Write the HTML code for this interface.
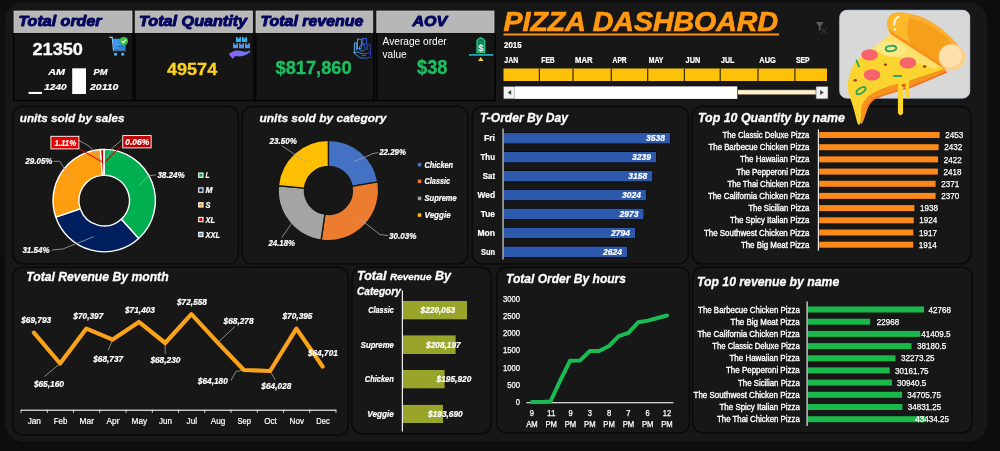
<!DOCTYPE html>
<html><head><meta charset="utf-8"><title>Pizza Dashboard</title>
<style>
html,body{margin:0;padding:0;background:#0e0e0e;}
body{width:1000px;height:451px;overflow:hidden;font-family:"Liberation Sans", sans-serif;}
svg{display:block;font-family:"Liberation Sans", sans-serif;will-change:transform;opacity:0.999;}
</style></head><body>
<svg width="1000" height="451" viewBox="0 0 1000 451">
<rect width="1000" height="451" fill="#0e0e0e"/>
<rect x="5.2" y="2.5" width="981.8" height="438.9" fill="#181818" rx="18"/>
<rect x="13.7" y="33.0" width="119.5" height="67.5" fill="#161616" stroke="#050505" stroke-width="1.6"/>
<rect x="14.0" y="11.0" width="118.0" height="21.7" fill="#b8b8b8" stroke="#d2d2d2" stroke-width="0.7"/>
<text x="18.4" y="25.5" font-size="14.3" fill="#05075f" font-weight="bold" font-style="italic" textLength="83.2" lengthAdjust="spacingAndGlyphs" stroke="#05075f" stroke-width="0.95" stroke-linejoin="round">Total order</text>
<rect x="134.9" y="33.0" width="118.8" height="67.5" fill="#161616" stroke="#050505" stroke-width="1.6"/>
<rect x="135.2" y="11.0" width="117.3" height="21.7" fill="#b8b8b8" stroke="#d2d2d2" stroke-width="0.7"/>
<text x="139.1" y="25.5" font-size="14.3" fill="#05075f" font-weight="bold" font-style="italic" textLength="108.0" lengthAdjust="spacingAndGlyphs" stroke="#05075f" stroke-width="0.95" stroke-linejoin="round">Total Quantity</text>
<rect x="255.7" y="33.0" width="118.3" height="67.5" fill="#161616" stroke="#050505" stroke-width="1.6"/>
<rect x="256.0" y="11.0" width="116.8" height="21.7" fill="#b8b8b8" stroke="#d2d2d2" stroke-width="0.7"/>
<text x="260.4" y="25.5" font-size="14.3" fill="#05075f" font-weight="bold" font-style="italic" textLength="102.9" lengthAdjust="spacingAndGlyphs" stroke="#05075f" stroke-width="0.95" stroke-linejoin="round">Total revenue</text>
<rect x="376.5" y="33.0" width="118.7" height="67.5" fill="#161616" stroke="#050505" stroke-width="1.6"/>
<rect x="376.8" y="11.0" width="117.2" height="21.7" fill="#b8b8b8" stroke="#d2d2d2" stroke-width="0.7"/>
<text x="412.4" y="25.5" font-size="14.3" fill="#05075f" font-weight="bold" font-style="italic" textLength="34.7" lengthAdjust="spacingAndGlyphs" stroke="#05075f" stroke-width="0.95" stroke-linejoin="round">AOV</text>
<text x="32.4" y="55.2" font-size="17" fill="#fff" font-weight="bold" textLength="50.6" lengthAdjust="spacingAndGlyphs" stroke="#fff" stroke-width="0.3">21350</text>
<text x="48.3" y="74.8" font-size="9.8" fill="#fff" font-weight="bold" font-style="italic" textLength="16.8" lengthAdjust="spacingAndGlyphs" stroke="#fff" stroke-width="0.22">AM</text>
<text x="44.3" y="89.9" font-size="9.6" fill="#fff" font-weight="bold" font-style="italic" textLength="22.3" lengthAdjust="spacingAndGlyphs" stroke="#fff" stroke-width="0.22">1240</text>
<text x="93.6" y="74.8" font-size="9.8" fill="#fff" font-weight="bold" font-style="italic" textLength="14.0" lengthAdjust="spacingAndGlyphs" stroke="#fff" stroke-width="0.22">PM</text>
<text x="90.0" y="89.9" font-size="9.6" fill="#fff" font-weight="bold" font-style="italic" textLength="28.3" lengthAdjust="spacingAndGlyphs" stroke="#fff" stroke-width="0.22">20110</text>
<rect x="72.2" y="68.3" width="13.8" height="25.7" fill="#fff"/>
<rect x="28.5" y="91.9" width="13.5" height="2.1" fill="#fff"/>
<text x="167.0" y="74.8" font-size="17.2" fill="#ffd320" font-weight="bold" textLength="50.2" lengthAdjust="spacingAndGlyphs" stroke="#ffd320" stroke-width="0.3">49574</text>
<text x="275.5" y="74.0" font-size="17.5" fill="#1fc063" font-weight="bold" textLength="76.1" lengthAdjust="spacingAndGlyphs" stroke="#1fc063" stroke-width="0.3">$817,860</text>
<text x="382.6" y="45.2" font-size="10.2" fill="#fff" textLength="64.1" lengthAdjust="spacingAndGlyphs">Average order</text>
<text x="382.6" y="58.3" font-size="10.2" fill="#fff" textLength="24.0" lengthAdjust="spacingAndGlyphs">value</text>
<text x="417.0" y="73.7" font-size="20" fill="#1fc063" font-weight="bold" textLength="30.4" lengthAdjust="spacingAndGlyphs" stroke="#1fc063" stroke-width="0.3">$38</text>
<g><path d="M109.3,37.3 L112.2,37.3 L113.6,50.8 L125.8,50.8" fill="none" stroke="#9ec9f5" stroke-width="1.2"/><path d="M112.6,38.8 L126,38.8 L125.2,49.8 L113.8,49.8 Z" fill="#3a9cf0"/><path d="M119.5,38.8 L126,38.8 L125.2,49.8 L119.5,49.8 Z" fill="#2b86e0"/><rect x="116.3" y="46" width="1.3" height="1.1" fill="#1552b0"/><rect x="118.8" y="46" width="1.3" height="1.1" fill="#1552b0"/><rect x="121.3" y="46" width="1.3" height="1.1" fill="#1552b0"/><rect x="112" y="50.6" width="13.8" height="1.6" fill="#1a2a55"/><circle cx="115.6" cy="54.2" r="1.6" fill="#45b4f5"/><circle cx="122.7" cy="54.2" r="1.6" fill="#45b4f5"/><circle cx="123.9" cy="41" r="4.1" fill="#3cc43c"/><path d="M121.8,41 L123.4,42.6 L126,39.6" fill="none" stroke="#fff" stroke-width="1.2"/></g>
<defs><linearGradient id="gbox" gradientUnits="userSpaceOnUse" x1="0" y1="37" x2="0" y2="48.5"><stop offset="0" stop-color="#1cc6f2"/><stop offset="1" stop-color="#5f8af5"/></linearGradient><linearGradient id="ghand" x1="0" y1="0" x2="1" y2="0"><stop offset="0" stop-color="#9a5cf8"/><stop offset="1" stop-color="#5b82f5"/></linearGradient><linearGradient id="gmoney" gradientUnits="userSpaceOnUse" x1="353" y1="0" x2="371" y2="0"><stop offset="0" stop-color="#62c0ea"/><stop offset="1" stop-color="#2436d0"/></linearGradient></defs>
<path d="M236,37 h1.6 v1.5 h1.8 v-1.5 h1.6 v5 h-5 Z" fill="url(#gbox)"/>
<path d="M242,37 h1.6 v1.5 h1.8 v-1.5 h1.6 v5 h-5 Z" fill="url(#gbox)"/>
<path d="M233,43.3 h1.6 v1.5 h1.8 v-1.5 h1.6 v5 h-5 Z" fill="url(#gbox)"/>
<path d="M239,43.3 h1.6 v1.5 h1.8 v-1.5 h1.6 v5 h-5 Z" fill="url(#gbox)"/>
<path d="M245,43.3 h1.6 v1.5 h1.8 v-1.5 h1.6 v5 h-5 Z" fill="url(#gbox)"/>
<path d="M228.7,54 L232.2,51.8 Q236,49.6 240,50.8 L244.5,51.8 Q247,52 249.5,50.6 Q251,51 249.6,52.6 Q245,56.6 239,56.4 L235.5,56 L232.6,58.8 Z" fill="url(#ghand)"/>
<g fill="none" stroke="url(#gmoney)" stroke-width="0.95"><path d="M354.4,52 L354.4,42.8 L356.6,42.8 L356.6,50.5"/><rect x="357.5" y="39.2" width="3.8" height="9.5"/><rect x="362.8" y="38.5" width="3.8" height="5.6"/><path d="M367.2,50 L367.2,44.8 L370.2,44.8 L370.2,53"/><path d="M361.4,45 Q362.2,43.6 363.2,45 Q365.6,46.8 365.2,49.4 Q364.6,51 362.2,51 Q359.6,51 359.2,49.2 Q359,46.6 361.4,45 Z"/><path d="M353.6,52.6 L357.6,51.9 L362,53.7 L366.2,53.7 L370.3,52.4 L370.6,57.2 L366,58.3 L360,57.8 Z"/><path d="M362,55.6 L366,55.6"/></g>
<g><path d="M477,41.2 Q477.2,39 480.8,37.8 Q484.5,39 484.7,41.2 L484.7,52.4 L477,52.4 Z" fill="#128a5a" stroke="#22cc88" stroke-width="1.3"/><rect x="478.6" y="39.6" width="4.6" height="0.9" fill="#0d5a3a"/><rect x="469" y="54" width="24.2" height="1.8" fill="#1fa9bb"/><path d="M478.2,61 L480.8,56.9 L483.5,61 Z" fill="#f7d548"/></g>
<text x="480.9" y="50.6" font-size="9.5" fill="#fff" text-anchor="middle" stroke="#fff" stroke-width="0.2">$</text>
<g>
<text x="504.6" y="31.6" font-size="28" fill="#2a1600" font-weight="bold" font-style="italic" textLength="274.5" lengthAdjust="spacingAndGlyphs" stroke="#2a1600" stroke-width="1.2">PIZZA DASHBOARD</text>
<text x="503.5" y="30.5" font-size="28" fill="#ff9a12" font-weight="bold" font-style="italic" textLength="274.5" lengthAdjust="spacingAndGlyphs" stroke="#ff9a12" stroke-width="0.7">PIZZA DASHBOARD</text>
</g>
<rect x="503.5" y="33.5" width="275.5" height="2.0" fill="#f7941d"/>
<text x="504.0" y="47.7" font-size="8.6" fill="#fff" font-weight="bold" textLength="17.6" lengthAdjust="spacingAndGlyphs" stroke="#fff" stroke-width="0.22">2015</text>
<text x="504.3" y="63.1" font-size="8.2" fill="#fff" font-weight="bold" textLength="13.9" lengthAdjust="spacingAndGlyphs" stroke="#fff" stroke-width="0.22">JAN</text>
<text x="541.3" y="63.1" font-size="8.2" fill="#fff" font-weight="bold" textLength="13.4" lengthAdjust="spacingAndGlyphs" stroke="#fff" stroke-width="0.22">FEB</text>
<text x="575.0" y="63.1" font-size="8.2" fill="#fff" font-weight="bold" textLength="17.5" lengthAdjust="spacingAndGlyphs" stroke="#fff" stroke-width="0.22">MAR</text>
<text x="612.6" y="63.1" font-size="8.2" fill="#fff" font-weight="bold" textLength="14.1" lengthAdjust="spacingAndGlyphs" stroke="#fff" stroke-width="0.22">APR</text>
<text x="648.7" y="63.1" font-size="8.2" fill="#fff" font-weight="bold" textLength="14.6" lengthAdjust="spacingAndGlyphs" stroke="#fff" stroke-width="0.22">MAY</text>
<text x="685.6" y="63.1" font-size="8.2" fill="#fff" font-weight="bold" textLength="14.6" lengthAdjust="spacingAndGlyphs" stroke="#fff" stroke-width="0.22">JUN</text>
<text x="721.0" y="63.1" font-size="8.2" fill="#fff" font-weight="bold" textLength="13.4" lengthAdjust="spacingAndGlyphs" stroke="#fff" stroke-width="0.22">JUL</text>
<text x="759.3" y="63.1" font-size="8.2" fill="#fff" font-weight="bold" textLength="16.6" lengthAdjust="spacingAndGlyphs" stroke="#fff" stroke-width="0.22">AUG</text>
<text x="795.9" y="63.1" font-size="8.2" fill="#fff" font-weight="bold" textLength="13.7" lengthAdjust="spacingAndGlyphs" stroke="#fff" stroke-width="0.22">SEP</text>
<rect x="503.5" y="68.5" width="323.5" height="12.5" fill="#ffc20a"/>
<rect x="538.8" y="68.5" width="1.2" height="12.5" fill="#3a2c00"/>
<rect x="572.4" y="68.5" width="1.2" height="12.5" fill="#3a2c00"/>
<rect x="610.7" y="68.5" width="1.2" height="12.5" fill="#3a2c00"/>
<rect x="647.1" y="68.5" width="1.2" height="12.5" fill="#3a2c00"/>
<rect x="683.8" y="68.5" width="1.2" height="12.5" fill="#3a2c00"/>
<rect x="719.6" y="68.5" width="1.2" height="12.5" fill="#3a2c00"/>
<rect x="757.4" y="68.5" width="1.2" height="12.5" fill="#3a2c00"/>
<rect x="794.3" y="68.5" width="1.2" height="12.5" fill="#3a2c00"/>
<rect x="503.5" y="86.4" width="11.5" height="12.5" fill="#f4f4f4" stroke="#555" stroke-width="0.6"/>
<path d="M511.2,90.1 L507.6,92.6 L511.2,95.1 Z" fill="#444"/>
<rect x="515.0" y="86.4" width="222.3" height="12.5" fill="#ffffff"/>
<rect x="737.3" y="89.8" width="79.0" height="5.0" fill="#fff3d2" stroke="#3a3020" stroke-width="0.6"/>
<rect x="816.0" y="86.4" width="12.0" height="12.5" fill="#f4f4f4" stroke="#555" stroke-width="0.6"/>
<path d="M820.2,90.1 L823.8,92.6 L820.2,95.1 Z" fill="#444"/>
<path d="M815.8,22 L823.8,22 L820.4,26.4 L820.4,30.4 L819,30.4 L819,26.4 Z" fill="#5c5c5c"/>
<path d="M820.6,27.8 L827,33.6 M827,27.8 L820.6,33.6" stroke="#414141" stroke-width="0.9" fill="none"/>
<rect x="12.8" y="106.6" width="225.6" height="157.3" fill="#181818" rx="10" stroke="#0a0a0a" stroke-width="1.5"/>
<rect x="242.2" y="106.6" width="225.8" height="157.3" fill="#181818" rx="10" stroke="#0a0a0a" stroke-width="1.5"/>
<rect x="472.1" y="106.6" width="216.1" height="157.3" fill="#181818" rx="10" stroke="#0a0a0a" stroke-width="1.5"/>
<rect x="692.0" y="106.6" width="278.8" height="157.3" fill="#181818" rx="10" stroke="#0a0a0a" stroke-width="1.5"/>
<rect x="12.8" y="267.2" width="335.5" height="167.8" fill="#181818" rx="10" stroke="#0a0a0a" stroke-width="1.5"/>
<rect x="352.0" y="267.2" width="139.2" height="166.6" fill="#181818" rx="10" stroke="#0a0a0a" stroke-width="1.5"/>
<rect x="496.7" y="267.2" width="192.7" height="165.8" fill="#181818" rx="10" stroke="#0a0a0a" stroke-width="1.5"/>
<rect x="692.7" y="267.2" width="279.3" height="165.6" fill="#181818" rx="10" stroke="#0a0a0a" stroke-width="1.5"/>
<rect x="839.8" y="10.3" width="129.9" height="87.8" fill="#d9d9d9" rx="7" stroke="#c5d3ea" stroke-width="1"/>
<path d="M861,124.5 L861,106.6 Q863,100 868,95.5 Q876,89.5 888,86 L944.5,68.5 L947,72.5 L910,88.3 Q890,93 875,99 Q869.5,103 867.5,109 L863.2,121.5 Z" fill="#f7931e"/>
<path d="M947,72.5 L910,88.3 Q890,93 875,99 Q869.5,103 867.5,109 L866.3,108.6 Q868.5,102 874.4,98 Q890,91.8 909.6,87 L946.4,71.4 Z" fill="#f26a21"/>
<path d="M891.4,33.7 Q868,52 855.5,62 Q849.5,72 848,82 Q847.2,90 849.5,96 Q852,103 854,110 L857.2,122.5 Q859,127 860.8,122.5 L861.3,107 Q863.5,100.5 868.5,96 Q876,90.3 888,86.4 L897.9,83.6 L897.9,113 Q900.5,117.5 903.1,113 L903.1,84 L905.9,83.2 L905.9,97 Q907.5,100.5 909.1,97 L909.1,80.8 L944.5,68.8 L946,62 Z" fill="#fdd531"/>
<path d="M891.4,33.7 Q876,45 866,53 Q880,50 895,56 Q915,63 935,68.5 L946,65 Z" fill="#fde16a"/>
<ellipse cx="891" cy="49" rx="15" ry="7.5" fill="#fde985" transform="rotate(8 891 49)"/>

<path d="M887,23 Q887.5,12.5 898,12.4 Q910,12.6 921,16.5 Q942,25.5 959.5,46.5 L945,69.5 L891.5,34.5 Q886.6,29 887,23 Z" fill="#fbb033"/>
<path d="M906,17.5 Q925,21 941,33 Q951,41 955,50 L944,65.5 L905,41.5 Q903,30 906,17.5 Z" fill="#f6a01c"/>
<path d="M888.6,29.8 L943.6,64.6 L945.2,69.6 L891.5,34.6 Q889.5,33 888.6,29.8 Z" fill="#f7931e"/>
<path d="M887,23 Q887.5,12.5 898,12.4 Q906,12.5 910,16 Q906.5,25 907.5,34 Q908,39 911,43.5 L891.5,31.5 Q886.6,28 887,23 Z" fill="#fdb92c"/>
<circle cx="951.9" cy="57.3" r="13.2" fill="#fdd189"/>
<circle cx="950.3" cy="56.2" r="11.2" fill="#fde2ad"/>
<path d="M894,25 Q894.5,18.5 899,16.6" fill="none" stroke="#fff" stroke-width="1.7" stroke-linecap="round"/>
<circle cx="895" cy="29.4" r="1.2" fill="#fff"/>
<ellipse cx="869.6" cy="54.9" rx="8.3" ry="5.7" fill="#f7646c"/>
<ellipse cx="907.9" cy="62.9" rx="8.3" ry="5.7" fill="#f7646c"/>
<ellipse cx="872" cy="74.9" rx="8.3" ry="5.7" fill="#f7646c"/>
<ellipse cx="891" cy="48.5" rx="5.3" ry="2.6" fill="none" stroke="#2aa860" stroke-width="1.9" transform="rotate(-6 891 48.5)"/>
<ellipse cx="861" cy="90.6" rx="5.2" ry="2.5" fill="none" stroke="#2aa860" stroke-width="1.9" transform="rotate(-33 861 90.6)"/>
<path d="M856.5,60.5 L859,66.5" stroke="#2aa860" stroke-width="1.9" stroke-linecap="round"/>
<path d="M894.2,76 L901.2,76" stroke="#2aa876" stroke-width="2" stroke-linecap="round"/>
<ellipse cx="855.2" cy="80.2" rx="1.7" ry="1.2" fill="#9a3a1c"/>
<ellipse cx="885.5" cy="64.7" rx="1.7" ry="1.2" fill="#9a4a1c"/>
<ellipse cx="924.6" cy="66.5" rx="1.7" ry="1.2" fill="#9a3a1c"/>
<ellipse cx="903.4" cy="85.4" rx="1.7" ry="1.2" fill="#d9481c"/>
<text x="19.8" y="122.3" font-size="11.6" fill="#fff" font-weight="bold" font-style="italic" textLength="104.7" lengthAdjust="spacingAndGlyphs" stroke="#fff" stroke-width="0.3">units sold by sales</text>
<path d="M104.20,149.40 A51.2,51.2 0 0 1 138.68,238.45 L121.24,219.30 A25.3,25.3 0 0 0 104.20,175.30 Z" fill="#00b050" stroke="#fff" stroke-width="1.4" stroke-linejoin="round"/>
<path d="M138.68,238.45 A51.2,51.2 0 0 1 55.73,217.09 L80.25,208.75 A25.3,25.3 0 0 0 121.24,219.30 Z" fill="#002060" stroke="#fff" stroke-width="1.4" stroke-linejoin="round"/>
<path d="M55.73,217.09 A51.2,51.2 0 0 1 100.44,149.54 L102.34,175.37 A25.3,25.3 0 0 0 80.25,208.75 Z" fill="#ff9f0f" stroke="#fff" stroke-width="1.4" stroke-linejoin="round"/>
<path d="M100.44,149.54 A51.2,51.2 0 0 1 104.01,149.40 L104.10,175.30 A25.3,25.3 0 0 0 102.34,175.37 Z" fill="#c00000" stroke="#fff" stroke-width="1.4" stroke-linejoin="round"/>
<path d="M104.01,149.40 A51.2,51.2 0 0 1 104.20,149.40 L104.20,175.30 A25.3,25.3 0 0 0 104.10,175.30 Z" fill="#5b9bd5" stroke="#fff" stroke-width="1.4" stroke-linejoin="round"/>
<polyline points="138.8,185.5 148.0,176.0 156.0,174.8" fill="none" stroke="#a6a6a6" stroke-width="0.8" />
<polyline points="93.8,236.7 62.8,249.0 51.9,250.0" fill="none" stroke="#a6a6a6" stroke-width="0.8" />
<polyline points="53.5,161.3 59.7,161.3 72.0,180.0" fill="none" stroke="#a6a6a6" stroke-width="0.8" />
<polyline points="79.0,140.5 89.0,146.0 102.0,161.0" fill="none" stroke="#a6a6a6" stroke-width="0.8" />
<polyline points="121.7,140.0 112.4,148.0 106.0,158.0" fill="none" stroke="#a6a6a6" stroke-width="0.8" />
<polyline points="78.9,148.5 102.2,162.0" fill="none" stroke="#e00000" stroke-width="1" />
<polyline points="121.9,145.0 104.8,162.0" fill="none" stroke="#c00000" stroke-width="1" />
<text x="157.4" y="177.7" font-size="8.7" fill="#fff" font-weight="bold" font-style="italic" textLength="27.3" lengthAdjust="spacingAndGlyphs" stroke="#fff" stroke-width="0.22">38.24%</text>
<text x="22.4" y="253.0" font-size="8.7" fill="#fff" font-weight="bold" font-style="italic" textLength="27.3" lengthAdjust="spacingAndGlyphs" stroke="#fff" stroke-width="0.22">31.54%</text>
<text x="25.3" y="164.3" font-size="8.7" fill="#fff" font-weight="bold" font-style="italic" textLength="27.2" lengthAdjust="spacingAndGlyphs" stroke="#fff" stroke-width="0.22">29.05%</text>
<rect x="50.9" y="136.3" width="28.0" height="12.6" fill="#e60000" stroke="#fff" stroke-width="0.9"/>
<text x="54.4" y="145.8" font-size="8.7" fill="#fff" font-weight="bold" font-style="italic" textLength="21.8" lengthAdjust="spacingAndGlyphs" stroke="#fff" stroke-width="0.22">1.11%</text>
<rect x="122.8" y="135.6" width="28.3" height="12.3" fill="#c00000" stroke="#fff" stroke-width="0.9"/>
<text x="125.2" y="144.9" font-size="8.7" fill="#fff" font-weight="bold" font-style="italic" textLength="24.0" lengthAdjust="spacingAndGlyphs" stroke="#fff" stroke-width="0.22">0.06%</text>
<rect x="198.7" y="173.0" width="4.3" height="4.3" fill="#00b050" stroke="#fff" stroke-width="1.1"/>
<text x="205.6" y="178.3" font-size="8.4" fill="#fff" font-weight="bold" font-style="italic" textLength="4.0" lengthAdjust="spacingAndGlyphs" stroke="#fff" stroke-width="0.22">L</text>
<rect x="198.7" y="187.9" width="4.3" height="4.3" fill="#002060" stroke="#fff" stroke-width="1.1"/>
<text x="205.6" y="193.2" font-size="8.4" fill="#fff" font-weight="bold" font-style="italic" textLength="7.0" lengthAdjust="spacingAndGlyphs" stroke="#fff" stroke-width="0.22">M</text>
<rect x="198.7" y="202.7" width="4.3" height="4.3" fill="#ff9f0f" stroke="#fff" stroke-width="1.1"/>
<text x="205.6" y="208.0" font-size="8.4" fill="#fff" font-weight="bold" font-style="italic" textLength="5.0" lengthAdjust="spacingAndGlyphs" stroke="#fff" stroke-width="0.22">S</text>
<rect x="198.7" y="217.4" width="4.3" height="4.3" fill="#c00000" stroke="#fff" stroke-width="1.1"/>
<text x="205.6" y="222.7" font-size="8.4" fill="#fff" font-weight="bold" font-style="italic" textLength="9.5" lengthAdjust="spacingAndGlyphs" stroke="#fff" stroke-width="0.22">XL</text>
<rect x="198.7" y="232.3" width="4.3" height="4.3" fill="#5b9bd5" stroke="#fff" stroke-width="1.1"/>
<text x="205.6" y="237.6" font-size="8.4" fill="#fff" font-weight="bold" font-style="italic" textLength="14.5" lengthAdjust="spacingAndGlyphs" stroke="#fff" stroke-width="0.22">XXL</text>
<text x="259.5" y="121.8" font-size="11.6" fill="#fff" font-weight="bold" font-style="italic" textLength="126.8" lengthAdjust="spacingAndGlyphs" stroke="#fff" stroke-width="0.3">units sold by category</text>
<path d="M328.40,140.20 A50.2,50.2 0 0 1 377.87,181.89 L352.05,186.33 A24,24 0 0 0 328.40,166.40 Z" fill="#4472c4" stroke="#181818" stroke-width="1.4" stroke-linejoin="round"/>
<path d="M377.87,181.89 A50.2,50.2 0 0 1 321.11,240.07 L324.91,214.15 A24,24 0 0 0 352.05,186.33 Z" fill="#ed7d31" stroke="#181818" stroke-width="1.4" stroke-linejoin="round"/>
<path d="M321.11,240.07 A50.2,50.2 0 0 1 278.42,185.68 L304.51,188.14 A24,24 0 0 0 324.91,214.15 Z" fill="#a5a5a5" stroke="#181818" stroke-width="1.4" stroke-linejoin="round"/>
<path d="M278.42,185.68 A50.2,50.2 0 0 1 328.40,140.20 L328.40,166.40 A24,24 0 0 0 304.51,188.14 Z" fill="#ffc000" stroke="#181818" stroke-width="1.4" stroke-linejoin="round"/>
<polyline points="353.6,161.8 373.0,153.6 378.4,152.6" fill="none" stroke="#a6a6a6" stroke-width="0.8" />
<polyline points="357.0,216.8 380.0,234.6 388.0,235.6" fill="none" stroke="#a6a6a6" stroke-width="0.8" />
<polyline points="292.5,222.0 281.9,237.4" fill="none" stroke="#a6a6a6" stroke-width="0.8" />
<polyline points="281.9,145.8 305.7,161.8" fill="none" stroke="#a6a6a6" stroke-width="0.8" />
<text x="269.5" y="143.5" font-size="8.7" fill="#fff" font-weight="bold" font-style="italic" textLength="27.3" lengthAdjust="spacingAndGlyphs" stroke="#fff" stroke-width="0.22">23.50%</text>
<text x="379.2" y="155.3" font-size="8.7" fill="#fff" font-weight="bold" font-style="italic" textLength="26.8" lengthAdjust="spacingAndGlyphs" stroke="#fff" stroke-width="0.22">22.29%</text>
<text x="389.0" y="238.6" font-size="8.7" fill="#fff" font-weight="bold" font-style="italic" textLength="27.4" lengthAdjust="spacingAndGlyphs" stroke="#fff" stroke-width="0.22">30.03%</text>
<text x="268.4" y="245.7" font-size="8.7" fill="#fff" font-weight="bold" font-style="italic" textLength="26.6" lengthAdjust="spacingAndGlyphs" stroke="#fff" stroke-width="0.22">24.18%</text>
<rect x="417.8" y="162.9" width="3.5" height="3.5" fill="#4472c4"/>
<text x="424.6" y="167.6" font-size="8.4" fill="#fff" font-weight="bold" font-style="italic" textLength="28.4" lengthAdjust="spacingAndGlyphs" stroke="#fff" stroke-width="0.22">Chicken</text>
<rect x="417.8" y="179.6" width="3.5" height="3.5" fill="#ed7d31"/>
<text x="424.6" y="184.3" font-size="8.4" fill="#fff" font-weight="bold" font-style="italic" textLength="25.5" lengthAdjust="spacingAndGlyphs" stroke="#fff" stroke-width="0.22">Classic</text>
<rect x="417.8" y="196.7" width="3.5" height="3.5" fill="#a5a5a5"/>
<text x="424.6" y="201.4" font-size="8.4" fill="#fff" font-weight="bold" font-style="italic" textLength="32.0" lengthAdjust="spacingAndGlyphs" stroke="#fff" stroke-width="0.22">Supreme</text>
<rect x="417.8" y="213.3" width="3.5" height="3.5" fill="#ffc000"/>
<text x="424.6" y="218.0" font-size="8.4" fill="#fff" font-weight="bold" font-style="italic" textLength="26.0" lengthAdjust="spacingAndGlyphs" stroke="#fff" stroke-width="0.22">Veggie</text>
<text x="480.0" y="122.3" font-size="12" fill="#fff" font-weight="bold" font-style="italic" textLength="88.0" lengthAdjust="spacingAndGlyphs" stroke="#fff" stroke-width="0.3">T-Order By Day</text>
<rect x="503.8" y="132.3" width="166.8" height="11.9" fill="#060a14"/>
<rect x="503.8" y="133.1" width="166.2" height="10.3" fill="#2f5baf"/>
<text x="495.0" y="141.4" font-size="8.6" fill="#fff" font-weight="bold" text-anchor="end" textLength="11.0" lengthAdjust="spacingAndGlyphs" stroke="#fff" stroke-width="0.22">Fri</text>
<text x="665.0" y="141.3" font-size="8.6" fill="#fff" font-weight="bold" font-style="italic" text-anchor="end" textLength="19.0" lengthAdjust="spacingAndGlyphs" stroke="#fff" stroke-width="0.22">3538</text>
<rect x="503.8" y="151.2" width="152.8" height="11.9" fill="#060a14"/>
<rect x="503.8" y="152.0" width="152.2" height="10.3" fill="#2f5baf"/>
<text x="495.0" y="160.3" font-size="8.6" fill="#fff" font-weight="bold" text-anchor="end" textLength="14.5" lengthAdjust="spacingAndGlyphs" stroke="#fff" stroke-width="0.22">Thu</text>
<text x="651.0" y="160.2" font-size="8.6" fill="#fff" font-weight="bold" font-style="italic" text-anchor="end" textLength="19.0" lengthAdjust="spacingAndGlyphs" stroke="#fff" stroke-width="0.22">3239</text>
<rect x="503.8" y="170.2" width="149.0" height="11.9" fill="#060a14"/>
<rect x="503.8" y="171.0" width="148.4" height="10.3" fill="#2f5baf"/>
<text x="495.0" y="179.3" font-size="8.6" fill="#fff" font-weight="bold" text-anchor="end" textLength="12.2" lengthAdjust="spacingAndGlyphs" stroke="#fff" stroke-width="0.22">Sat</text>
<text x="647.2" y="179.2" font-size="8.6" fill="#fff" font-weight="bold" font-style="italic" text-anchor="end" textLength="19.0" lengthAdjust="spacingAndGlyphs" stroke="#fff" stroke-width="0.22">3158</text>
<rect x="503.8" y="189.1" width="142.7" height="11.9" fill="#060a14"/>
<rect x="503.8" y="189.9" width="142.1" height="10.3" fill="#2f5baf"/>
<text x="495.0" y="198.2" font-size="8.6" fill="#fff" font-weight="bold" text-anchor="end" textLength="17.5" lengthAdjust="spacingAndGlyphs" stroke="#fff" stroke-width="0.22">Wed</text>
<text x="640.9" y="198.1" font-size="8.6" fill="#fff" font-weight="bold" font-style="italic" text-anchor="end" textLength="19.0" lengthAdjust="spacingAndGlyphs" stroke="#fff" stroke-width="0.22">3024</text>
<rect x="503.8" y="208.0" width="140.3" height="11.9" fill="#060a14"/>
<rect x="503.8" y="208.8" width="139.7" height="10.3" fill="#2f5baf"/>
<text x="495.0" y="217.1" font-size="8.6" fill="#fff" font-weight="bold" text-anchor="end" textLength="14.2" lengthAdjust="spacingAndGlyphs" stroke="#fff" stroke-width="0.22">Tue</text>
<text x="638.5" y="217.0" font-size="8.6" fill="#fff" font-weight="bold" font-style="italic" text-anchor="end" textLength="19.0" lengthAdjust="spacingAndGlyphs" stroke="#fff" stroke-width="0.22">2973</text>
<rect x="503.8" y="226.9" width="131.9" height="11.9" fill="#060a14"/>
<rect x="503.8" y="227.8" width="131.3" height="10.3" fill="#2f5baf"/>
<text x="495.0" y="236.1" font-size="8.6" fill="#fff" font-weight="bold" text-anchor="end" textLength="17.5" lengthAdjust="spacingAndGlyphs" stroke="#fff" stroke-width="0.22">Mon</text>
<text x="630.1" y="235.9" font-size="8.6" fill="#fff" font-weight="bold" font-style="italic" text-anchor="end" textLength="19.0" lengthAdjust="spacingAndGlyphs" stroke="#fff" stroke-width="0.22">2794</text>
<rect x="503.8" y="245.9" width="123.9" height="11.9" fill="#060a14"/>
<rect x="503.8" y="246.7" width="123.3" height="10.3" fill="#2f5baf"/>
<text x="495.0" y="255.0" font-size="8.6" fill="#fff" font-weight="bold" text-anchor="end" textLength="14.0" lengthAdjust="spacingAndGlyphs" stroke="#fff" stroke-width="0.22">Sun</text>
<text x="622.1" y="254.9" font-size="8.6" fill="#fff" font-weight="bold" font-style="italic" text-anchor="end" textLength="19.0" lengthAdjust="spacingAndGlyphs" stroke="#fff" stroke-width="0.22">2624</text>
<rect x="502.3" y="128.5" width="1.5" height="131.0" fill="#b4b4b4"/>
<text x="698.0" y="122.4" font-size="12" fill="#fff" font-weight="bold" font-style="italic" textLength="147.0" lengthAdjust="spacingAndGlyphs" stroke="#fff" stroke-width="0.3">Top 10 Quantity by name</text>
<rect x="819.2" y="132.0" width="120.4" height="6.0" fill="#ff8a1c"/>
<text x="809.4" y="138.0" font-size="8.3" fill="#fff" text-anchor="end" textLength="86.8" lengthAdjust="spacingAndGlyphs" stroke="#fff" stroke-width="0.35">The Classic Deluxe Pizza</text>
<text x="945.2" y="138.1" font-size="8.3" fill="#fff" textLength="18.0" lengthAdjust="spacingAndGlyphs" stroke="#fff" stroke-width="0.25">2453</text>
<rect x="819.2" y="144.2" width="119.4" height="6.0" fill="#ff8a1c"/>
<text x="809.4" y="150.2" font-size="8.3" fill="#fff" text-anchor="end" textLength="100.9" lengthAdjust="spacingAndGlyphs" stroke="#fff" stroke-width="0.35">The Barbecue Chicken Pizza</text>
<text x="944.2" y="150.3" font-size="8.3" fill="#fff" textLength="18.0" lengthAdjust="spacingAndGlyphs" stroke="#fff" stroke-width="0.25">2432</text>
<rect x="819.2" y="156.4" width="118.9" height="6.0" fill="#ff8a1c"/>
<text x="809.4" y="162.4" font-size="8.3" fill="#fff" text-anchor="end" textLength="69.5" lengthAdjust="spacingAndGlyphs" stroke="#fff" stroke-width="0.35">The Hawaiian Pizza</text>
<text x="943.7" y="162.5" font-size="8.3" fill="#fff" textLength="18.0" lengthAdjust="spacingAndGlyphs" stroke="#fff" stroke-width="0.25">2422</text>
<rect x="819.2" y="168.6" width="118.7" height="6.0" fill="#ff8a1c"/>
<text x="809.4" y="174.6" font-size="8.3" fill="#fff" text-anchor="end" textLength="73.0" lengthAdjust="spacingAndGlyphs" stroke="#fff" stroke-width="0.35">The Pepperoni Pizza</text>
<text x="943.5" y="174.7" font-size="8.3" fill="#fff" textLength="18.0" lengthAdjust="spacingAndGlyphs" stroke="#fff" stroke-width="0.25">2418</text>
<rect x="819.2" y="180.8" width="116.4" height="6.0" fill="#ff8a1c"/>
<text x="809.4" y="186.8" font-size="8.3" fill="#fff" text-anchor="end" textLength="82.0" lengthAdjust="spacingAndGlyphs" stroke="#fff" stroke-width="0.35">The Thai Chicken Pizza</text>
<text x="941.2" y="186.9" font-size="8.3" fill="#fff" textLength="18.0" lengthAdjust="spacingAndGlyphs" stroke="#fff" stroke-width="0.25">2371</text>
<rect x="819.2" y="192.9" width="116.4" height="6.0" fill="#ff8a1c"/>
<text x="809.4" y="198.9" font-size="8.3" fill="#fff" text-anchor="end" textLength="101.5" lengthAdjust="spacingAndGlyphs" stroke="#fff" stroke-width="0.35">The California Chicken Pizza</text>
<text x="941.2" y="199.0" font-size="8.3" fill="#fff" textLength="18.0" lengthAdjust="spacingAndGlyphs" stroke="#fff" stroke-width="0.25">2370</text>
<rect x="819.2" y="205.1" width="95.2" height="6.0" fill="#ff8a1c"/>
<text x="809.4" y="211.1" font-size="8.3" fill="#fff" text-anchor="end" textLength="61.0" lengthAdjust="spacingAndGlyphs" stroke="#fff" stroke-width="0.35">The Sicilian Pizza</text>
<text x="920.0" y="211.2" font-size="8.3" fill="#fff" textLength="18.0" lengthAdjust="spacingAndGlyphs" stroke="#fff" stroke-width="0.25">1938</text>
<rect x="819.2" y="217.3" width="94.5" height="6.0" fill="#ff8a1c"/>
<text x="809.4" y="223.3" font-size="8.3" fill="#fff" text-anchor="end" textLength="79.5" lengthAdjust="spacingAndGlyphs" stroke="#fff" stroke-width="0.35">The Spicy Italian Pizza</text>
<text x="919.3" y="223.4" font-size="8.3" fill="#fff" textLength="18.0" lengthAdjust="spacingAndGlyphs" stroke="#fff" stroke-width="0.25">1924</text>
<rect x="819.2" y="229.5" width="94.1" height="6.0" fill="#ff8a1c"/>
<text x="809.4" y="235.5" font-size="8.3" fill="#fff" text-anchor="end" textLength="105.5" lengthAdjust="spacingAndGlyphs" stroke="#fff" stroke-width="0.35">The Southwest Chicken Pizza</text>
<text x="918.9" y="235.6" font-size="8.3" fill="#fff" textLength="18.0" lengthAdjust="spacingAndGlyphs" stroke="#fff" stroke-width="0.25">1917</text>
<rect x="819.2" y="241.7" width="94.0" height="6.0" fill="#ff8a1c"/>
<text x="809.4" y="247.7" font-size="8.3" fill="#fff" text-anchor="end" textLength="68.5" lengthAdjust="spacingAndGlyphs" stroke="#fff" stroke-width="0.35">The Big Meat Pizza</text>
<text x="918.8" y="247.8" font-size="8.3" fill="#fff" textLength="18.0" lengthAdjust="spacingAndGlyphs" stroke="#fff" stroke-width="0.25">1914</text>
<rect x="817.8" y="129.4" width="1.2" height="121.4" fill="#e8e8e8"/>
<text x="26.3" y="281.3" font-size="12" fill="#fff" font-weight="bold" font-style="italic" textLength="142.3" lengthAdjust="spacingAndGlyphs" stroke="#fff" stroke-width="0.3">Total Revenue By month</text>
<polyline points="60.1,363.5 44.5,376.5" fill="none" stroke="#a6a6a6" stroke-width="0.8" />
<polyline points="112.7,339.6 108.0,350.5" fill="none" stroke="#a6a6a6" stroke-width="0.8" />
<polyline points="165.2,343.0 165.2,354.0" fill="none" stroke="#a6a6a6" stroke-width="0.8" />
<polyline points="217.7,342.7 235.0,326.5" fill="none" stroke="#a6a6a6" stroke-width="0.8" />
<polyline points="243.9,370.0 236.0,371.5 230.8,380.7" fill="none" stroke="#a6a6a6" stroke-width="0.8" />
<polyline points="270.1,371.0 275.3,379.9" fill="none" stroke="#a6a6a6" stroke-width="0.8" />
<polyline points="33.9,332.6 60.1,363.5 86.4,328.6 112.7,339.6 138.9,321.9 165.2,343.0 191.4,314.2 217.7,342.7 243.9,370.0 270.1,371.0 296.4,328.6 322.6,366.5" fill="none" stroke="#fba31b" stroke-width="4.2" stroke-linejoin="round" stroke-linecap="round"/>
<rect x="21.0" y="409.6" width="315.0" height="1.3" fill="#d9d9d9"/>
<rect x="20.5" y="409.6" width="1.0" height="3.2" fill="#d9d9d9"/>
<rect x="46.8" y="409.6" width="1.0" height="3.2" fill="#d9d9d9"/>
<rect x="73.0" y="409.6" width="1.0" height="3.2" fill="#d9d9d9"/>
<rect x="99.2" y="409.6" width="1.0" height="3.2" fill="#d9d9d9"/>
<rect x="125.5" y="409.6" width="1.0" height="3.2" fill="#d9d9d9"/>
<rect x="151.8" y="409.6" width="1.0" height="3.2" fill="#d9d9d9"/>
<rect x="178.0" y="409.6" width="1.0" height="3.2" fill="#d9d9d9"/>
<rect x="204.2" y="409.6" width="1.0" height="3.2" fill="#d9d9d9"/>
<rect x="230.5" y="409.6" width="1.0" height="3.2" fill="#d9d9d9"/>
<rect x="256.8" y="409.6" width="1.0" height="3.2" fill="#d9d9d9"/>
<rect x="283.0" y="409.6" width="1.0" height="3.2" fill="#d9d9d9"/>
<rect x="309.2" y="409.6" width="1.0" height="3.2" fill="#d9d9d9"/>
<rect x="335.5" y="409.6" width="1.0" height="3.2" fill="#d9d9d9"/>
<text x="34.3" y="424.2" font-size="8.2" fill="#fff" text-anchor="middle" textLength="13.3" lengthAdjust="spacingAndGlyphs" stroke="#fff" stroke-width="0.2">Jan</text>
<text x="60.5" y="424.2" font-size="8.2" fill="#fff" text-anchor="middle" textLength="13.5" lengthAdjust="spacingAndGlyphs" stroke="#fff" stroke-width="0.2">Feb</text>
<text x="86.8" y="424.2" font-size="8.2" fill="#fff" text-anchor="middle" textLength="14.5" lengthAdjust="spacingAndGlyphs" stroke="#fff" stroke-width="0.2">Mar</text>
<text x="113.0" y="424.2" font-size="8.2" fill="#fff" text-anchor="middle" textLength="13.0" lengthAdjust="spacingAndGlyphs" stroke="#fff" stroke-width="0.2">Apr</text>
<text x="139.3" y="424.2" font-size="8.2" fill="#fff" text-anchor="middle" textLength="15.5" lengthAdjust="spacingAndGlyphs" stroke="#fff" stroke-width="0.2">May</text>
<text x="165.6" y="424.2" font-size="8.2" fill="#fff" text-anchor="middle" textLength="13.0" lengthAdjust="spacingAndGlyphs" stroke="#fff" stroke-width="0.2">Jun</text>
<text x="191.8" y="424.2" font-size="8.2" fill="#fff" text-anchor="middle" textLength="10.5" lengthAdjust="spacingAndGlyphs" stroke="#fff" stroke-width="0.2">Jul</text>
<text x="218.1" y="424.2" font-size="8.2" fill="#fff" text-anchor="middle" textLength="14.5" lengthAdjust="spacingAndGlyphs" stroke="#fff" stroke-width="0.2">Aug</text>
<text x="244.3" y="424.2" font-size="8.2" fill="#fff" text-anchor="middle" textLength="13.5" lengthAdjust="spacingAndGlyphs" stroke="#fff" stroke-width="0.2">Sep</text>
<text x="270.6" y="424.2" font-size="8.2" fill="#fff" text-anchor="middle" textLength="12.5" lengthAdjust="spacingAndGlyphs" stroke="#fff" stroke-width="0.2">Oct</text>
<text x="296.8" y="424.2" font-size="8.2" fill="#fff" text-anchor="middle" textLength="14.5" lengthAdjust="spacingAndGlyphs" stroke="#fff" stroke-width="0.2">Nov</text>
<text x="323.1" y="424.2" font-size="8.2" fill="#fff" text-anchor="middle" textLength="13.5" lengthAdjust="spacingAndGlyphs" stroke="#fff" stroke-width="0.2">Dec</text>
<text x="21.2" y="323.1" font-size="8.2" fill="#fff" font-weight="bold" font-style="italic" textLength="30.0" lengthAdjust="spacingAndGlyphs" stroke="#fff" stroke-width="0.22">$69,793</text>
<text x="33.9" y="386.7" font-size="8.2" fill="#fff" font-weight="bold" font-style="italic" textLength="30.0" lengthAdjust="spacingAndGlyphs" stroke="#fff" stroke-width="0.22">$65,160</text>
<text x="73.3" y="318.9" font-size="8.2" fill="#fff" font-weight="bold" font-style="italic" textLength="30.0" lengthAdjust="spacingAndGlyphs" stroke="#fff" stroke-width="0.22">$70,397</text>
<text x="93.2" y="361.7" font-size="8.2" fill="#fff" font-weight="bold" font-style="italic" textLength="30.0" lengthAdjust="spacingAndGlyphs" stroke="#fff" stroke-width="0.22">$68,737</text>
<text x="125.0" y="312.6" font-size="8.2" fill="#fff" font-weight="bold" font-style="italic" textLength="30.0" lengthAdjust="spacingAndGlyphs" stroke="#fff" stroke-width="0.22">$71,403</text>
<text x="150.4" y="362.5" font-size="8.2" fill="#fff" font-weight="bold" font-style="italic" textLength="30.0" lengthAdjust="spacingAndGlyphs" stroke="#fff" stroke-width="0.22">$68,230</text>
<text x="177.0" y="305.0" font-size="8.2" fill="#fff" font-weight="bold" font-style="italic" textLength="30.0" lengthAdjust="spacingAndGlyphs" stroke="#fff" stroke-width="0.22">$72,558</text>
<text x="223.6" y="324.0" font-size="8.2" fill="#fff" font-weight="bold" font-style="italic" textLength="30.0" lengthAdjust="spacingAndGlyphs" stroke="#fff" stroke-width="0.22">$68,278</text>
<text x="197.8" y="384.1" font-size="8.2" fill="#fff" font-weight="bold" font-style="italic" textLength="30.0" lengthAdjust="spacingAndGlyphs" stroke="#fff" stroke-width="0.22">$64,180</text>
<text x="261.3" y="388.8" font-size="8.2" fill="#fff" font-weight="bold" font-style="italic" textLength="30.0" lengthAdjust="spacingAndGlyphs" stroke="#fff" stroke-width="0.22">$64,028</text>
<text x="282.5" y="318.9" font-size="8.2" fill="#fff" font-weight="bold" font-style="italic" textLength="30.0" lengthAdjust="spacingAndGlyphs" stroke="#fff" stroke-width="0.22">$70,395</text>
<text x="307.9" y="356.2" font-size="8.2" fill="#fff" font-weight="bold" font-style="italic" textLength="30.0" lengthAdjust="spacingAndGlyphs" stroke="#fff" stroke-width="0.22">$64,701</text>
<text x="357" y="280.4" fill="#fff" font-weight="bold" font-style="italic" font-size="12.4" stroke="#fff" stroke-width="0.3" textLength="94" lengthAdjust="spacingAndGlyphs">Total <tspan font-size="9.9">Revenue</tspan> By</text>
<text x="357.0" y="295.2" font-size="10.6" fill="#fff" font-weight="bold" font-style="italic" textLength="43.8" lengthAdjust="spacingAndGlyphs" stroke="#fff" stroke-width="0.3">Category</text>
<rect x="402.8" y="301.0" width="64.2" height="18.3" fill="#9aa52b"/>
<text x="393.8" y="313.0" font-size="8.2" fill="#fff" font-weight="bold" font-style="italic" text-anchor="end" textLength="25.5" lengthAdjust="spacingAndGlyphs" stroke="#fff" stroke-width="0.22">Classic</text>
<text x="420.5" y="313.0" font-size="8.2" fill="#fff" font-weight="bold" font-style="italic" textLength="34.7" lengthAdjust="spacingAndGlyphs" stroke="#fff" stroke-width="0.22">$220,053</text>
<rect x="402.8" y="335.4" width="52.8" height="18.6" fill="#9aa52b"/>
<text x="393.8" y="347.6" font-size="8.2" fill="#fff" font-weight="bold" font-style="italic" text-anchor="end" textLength="33.0" lengthAdjust="spacingAndGlyphs" stroke="#fff" stroke-width="0.22">Supreme</text>
<text x="426.0" y="347.6" font-size="8.2" fill="#fff" font-weight="bold" font-style="italic" textLength="34.7" lengthAdjust="spacingAndGlyphs" stroke="#fff" stroke-width="0.22">$208,197</text>
<rect x="402.8" y="370.0" width="41.8" height="18.3" fill="#9aa52b"/>
<text x="393.8" y="382.0" font-size="8.2" fill="#fff" font-weight="bold" font-style="italic" text-anchor="end" textLength="29.0" lengthAdjust="spacingAndGlyphs" stroke="#fff" stroke-width="0.22">Chicken</text>
<text x="436.6" y="382.0" font-size="8.2" fill="#fff" font-weight="bold" font-style="italic" textLength="34.7" lengthAdjust="spacingAndGlyphs" stroke="#fff" stroke-width="0.22">$195,920</text>
<rect x="402.8" y="404.9" width="40.2" height="18.1" fill="#9aa52b"/>
<text x="393.8" y="416.8" font-size="8.2" fill="#fff" font-weight="bold" font-style="italic" text-anchor="end" textLength="26.5" lengthAdjust="spacingAndGlyphs" stroke="#fff" stroke-width="0.22">Veggie</text>
<text x="428.0" y="416.8" font-size="8.2" fill="#fff" font-weight="bold" font-style="italic" textLength="34.7" lengthAdjust="spacingAndGlyphs" stroke="#fff" stroke-width="0.22">$193,690</text>
<rect x="401.8" y="290.5" width="1.2" height="141.0" fill="#f0f0f0"/>
<text x="506.0" y="283.4" font-size="12" fill="#fff" font-weight="bold" font-style="italic" textLength="120.0" lengthAdjust="spacingAndGlyphs" stroke="#fff" stroke-width="0.3">Total Order By hours</text>
<text x="520.0" y="302.0" font-size="8.2" fill="#fff" text-anchor="end" textLength="17.0" lengthAdjust="spacingAndGlyphs" stroke="#fff" stroke-width="0.25">3000</text>
<text x="520.0" y="319.1" font-size="8.2" fill="#fff" text-anchor="end" textLength="17.0" lengthAdjust="spacingAndGlyphs" stroke="#fff" stroke-width="0.25">2500</text>
<text x="520.0" y="336.3" font-size="8.2" fill="#fff" text-anchor="end" textLength="17.0" lengthAdjust="spacingAndGlyphs" stroke="#fff" stroke-width="0.25">2000</text>
<text x="520.0" y="353.4" font-size="8.2" fill="#fff" text-anchor="end" textLength="17.0" lengthAdjust="spacingAndGlyphs" stroke="#fff" stroke-width="0.25">1500</text>
<text x="520.0" y="370.6" font-size="8.2" fill="#fff" text-anchor="end" textLength="17.0" lengthAdjust="spacingAndGlyphs" stroke="#fff" stroke-width="0.25">1000</text>
<text x="520.0" y="387.8" font-size="8.2" fill="#fff" text-anchor="end" textLength="12.8" lengthAdjust="spacingAndGlyphs" stroke="#fff" stroke-width="0.25">500</text>
<text x="520.0" y="404.9" font-size="8.2" fill="#fff" text-anchor="end" textLength="4.2" lengthAdjust="spacingAndGlyphs" stroke="#fff" stroke-width="0.25">0</text>
<rect x="526.4" y="402.1" width="147.0" height="1.2" fill="#e6e6e6"/>
<polyline points="531.9,401.9 541.2,401.9 550.5,401.5 560.2,380.7 570.0,360.8 580.1,360.4 589.9,351.0 599.2,351.0 609.0,346.0 618.7,336.2 628.4,332.8 638.2,322.3 647.9,320.6 657.7,318.0 667.0,315.5" fill="none" stroke="#1cbb55" stroke-width="4" stroke-linejoin="round" stroke-linecap="round"/>
<text x="531.9" y="416.3" font-size="8.2" fill="#fff" text-anchor="middle" textLength="4.2" lengthAdjust="spacingAndGlyphs" stroke="#fff" stroke-width="0.25">9</text>
<text x="531.9" y="427.3" font-size="8.2" fill="#fff" text-anchor="middle" textLength="11.5" lengthAdjust="spacingAndGlyphs" stroke="#fff" stroke-width="0.25">AM</text>
<text x="551.2" y="416.3" font-size="8.2" fill="#fff" text-anchor="middle" textLength="8.4" lengthAdjust="spacingAndGlyphs" stroke="#fff" stroke-width="0.25">11</text>
<text x="551.2" y="427.3" font-size="8.2" fill="#fff" text-anchor="middle" textLength="11.5" lengthAdjust="spacingAndGlyphs" stroke="#fff" stroke-width="0.25">PM</text>
<text x="570.5" y="416.3" font-size="8.2" fill="#fff" text-anchor="middle" textLength="4.2" lengthAdjust="spacingAndGlyphs" stroke="#fff" stroke-width="0.25">9</text>
<text x="570.5" y="427.3" font-size="8.2" fill="#fff" text-anchor="middle" textLength="11.5" lengthAdjust="spacingAndGlyphs" stroke="#fff" stroke-width="0.25">PM</text>
<text x="589.8" y="416.3" font-size="8.2" fill="#fff" text-anchor="middle" textLength="4.2" lengthAdjust="spacingAndGlyphs" stroke="#fff" stroke-width="0.25">3</text>
<text x="589.8" y="427.3" font-size="8.2" fill="#fff" text-anchor="middle" textLength="11.5" lengthAdjust="spacingAndGlyphs" stroke="#fff" stroke-width="0.25">PM</text>
<text x="609.1" y="416.3" font-size="8.2" fill="#fff" text-anchor="middle" textLength="4.2" lengthAdjust="spacingAndGlyphs" stroke="#fff" stroke-width="0.25">8</text>
<text x="609.1" y="427.3" font-size="8.2" fill="#fff" text-anchor="middle" textLength="11.5" lengthAdjust="spacingAndGlyphs" stroke="#fff" stroke-width="0.25">PM</text>
<text x="628.4" y="416.3" font-size="8.2" fill="#fff" text-anchor="middle" textLength="4.2" lengthAdjust="spacingAndGlyphs" stroke="#fff" stroke-width="0.25">7</text>
<text x="628.4" y="427.3" font-size="8.2" fill="#fff" text-anchor="middle" textLength="11.5" lengthAdjust="spacingAndGlyphs" stroke="#fff" stroke-width="0.25">PM</text>
<text x="647.7" y="416.3" font-size="8.2" fill="#fff" text-anchor="middle" textLength="4.2" lengthAdjust="spacingAndGlyphs" stroke="#fff" stroke-width="0.25">6</text>
<text x="647.7" y="427.3" font-size="8.2" fill="#fff" text-anchor="middle" textLength="11.5" lengthAdjust="spacingAndGlyphs" stroke="#fff" stroke-width="0.25">PM</text>
<text x="667.0" y="416.3" font-size="8.2" fill="#fff" text-anchor="middle" textLength="8.4" lengthAdjust="spacingAndGlyphs" stroke="#fff" stroke-width="0.25">12</text>
<text x="667.0" y="427.3" font-size="8.2" fill="#fff" text-anchor="middle" textLength="11.5" lengthAdjust="spacingAndGlyphs" stroke="#fff" stroke-width="0.25">PM</text>
<text x="697.0" y="285.5" font-size="12" fill="#fff" font-weight="bold" font-style="italic" textLength="142.2" lengthAdjust="spacingAndGlyphs" stroke="#fff" stroke-width="0.3">Top 10 revenue by name</text>
<rect x="807.8" y="306.5" width="116.2" height="6.0" fill="#1bb94c"/>
<text x="799.8" y="312.5" font-size="8.3" fill="#fff" text-anchor="end" textLength="101.7" lengthAdjust="spacingAndGlyphs" stroke="#fff" stroke-width="0.35">The Barbecue Chicken Pizza</text>
<text x="928.5" y="312.6" font-size="8.3" fill="#fff" textLength="22.4" lengthAdjust="spacingAndGlyphs" stroke="#fff" stroke-width="0.25">42768</text>
<rect x="807.8" y="318.7" width="62.4" height="6.0" fill="#1bb94c"/>
<text x="799.8" y="324.7" font-size="8.3" fill="#fff" text-anchor="end" textLength="69.3" lengthAdjust="spacingAndGlyphs" stroke="#fff" stroke-width="0.35">The Big Meat Pizza</text>
<text x="876.8" y="324.8" font-size="8.3" fill="#fff" textLength="22.4" lengthAdjust="spacingAndGlyphs" stroke="#fff" stroke-width="0.25">22968</text>
<rect x="807.8" y="330.9" width="112.5" height="6.0" fill="#1bb94c"/>
<text x="799.8" y="336.9" font-size="8.3" fill="#fff" text-anchor="end" textLength="102.3" lengthAdjust="spacingAndGlyphs" stroke="#fff" stroke-width="0.35">The California Chicken Pizza</text>
<text x="921.3" y="337.0" font-size="8.3" fill="#fff" textLength="29.2" lengthAdjust="spacingAndGlyphs" stroke="#fff" stroke-width="0.25">41409.5</text>
<rect x="807.8" y="343.1" width="103.7" height="6.0" fill="#1bb94c"/>
<text x="799.8" y="349.1" font-size="8.3" fill="#fff" text-anchor="end" textLength="87.6" lengthAdjust="spacingAndGlyphs" stroke="#fff" stroke-width="0.35">The Classic Deluxe Pizza</text>
<text x="917.0" y="349.2" font-size="8.3" fill="#fff" textLength="29.2" lengthAdjust="spacingAndGlyphs" stroke="#fff" stroke-width="0.25">38180.5</text>
<rect x="807.8" y="355.3" width="87.7" height="6.0" fill="#1bb94c"/>
<text x="799.8" y="361.3" font-size="8.3" fill="#fff" text-anchor="end" textLength="70.3" lengthAdjust="spacingAndGlyphs" stroke="#fff" stroke-width="0.35">The Hawaiian Pizza</text>
<text x="901.0" y="361.4" font-size="8.3" fill="#fff" textLength="33.6" lengthAdjust="spacingAndGlyphs" stroke="#fff" stroke-width="0.25">32273.25</text>
<rect x="807.8" y="367.4" width="81.9" height="6.0" fill="#1bb94c"/>
<text x="799.8" y="373.4" font-size="8.3" fill="#fff" text-anchor="end" textLength="73.8" lengthAdjust="spacingAndGlyphs" stroke="#fff" stroke-width="0.35">The Pepperoni Pizza</text>
<text x="895.0" y="373.6" font-size="8.3" fill="#fff" textLength="33.6" lengthAdjust="spacingAndGlyphs" stroke="#fff" stroke-width="0.25">30161.75</text>
<rect x="807.8" y="379.6" width="84.1" height="6.0" fill="#1bb94c"/>
<text x="799.8" y="385.6" font-size="8.3" fill="#fff" text-anchor="end" textLength="61.8" lengthAdjust="spacingAndGlyphs" stroke="#fff" stroke-width="0.35">The Sicilian Pizza</text>
<text x="897.0" y="385.7" font-size="8.3" fill="#fff" textLength="29.2" lengthAdjust="spacingAndGlyphs" stroke="#fff" stroke-width="0.25">30940.5</text>
<rect x="807.8" y="391.8" width="94.3" height="6.0" fill="#1bb94c"/>
<text x="799.8" y="397.8" font-size="8.3" fill="#fff" text-anchor="end" textLength="106.3" lengthAdjust="spacingAndGlyphs" stroke="#fff" stroke-width="0.35">The Southwest Chicken Pizza</text>
<text x="907.3" y="397.9" font-size="8.3" fill="#fff" textLength="33.6" lengthAdjust="spacingAndGlyphs" stroke="#fff" stroke-width="0.25">34705.75</text>
<rect x="807.8" y="404.0" width="94.6" height="6.0" fill="#1bb94c"/>
<text x="799.8" y="410.0" font-size="8.3" fill="#fff" text-anchor="end" textLength="80.3" lengthAdjust="spacingAndGlyphs" stroke="#fff" stroke-width="0.35">The Spicy Italian Pizza</text>
<text x="907.7" y="410.1" font-size="8.3" fill="#fff" textLength="33.6" lengthAdjust="spacingAndGlyphs" stroke="#fff" stroke-width="0.25">34831.25</text>
<rect x="807.8" y="416.2" width="118.0" height="6.0" fill="#1bb94c"/>
<text x="799.8" y="422.2" font-size="8.3" fill="#fff" text-anchor="end" textLength="82.8" lengthAdjust="spacingAndGlyphs" stroke="#fff" stroke-width="0.35">The Thai Chicken Pizza</text>
<text x="915.3" y="422.3" font-size="8.3" fill="#fff" textLength="33.6" lengthAdjust="spacingAndGlyphs" stroke="#fff" stroke-width="0.25">43434.25</text>
<rect x="806.5" y="301.5" width="1.2" height="124.5" fill="#e8e8e8"/>
</svg>
</body></html>
